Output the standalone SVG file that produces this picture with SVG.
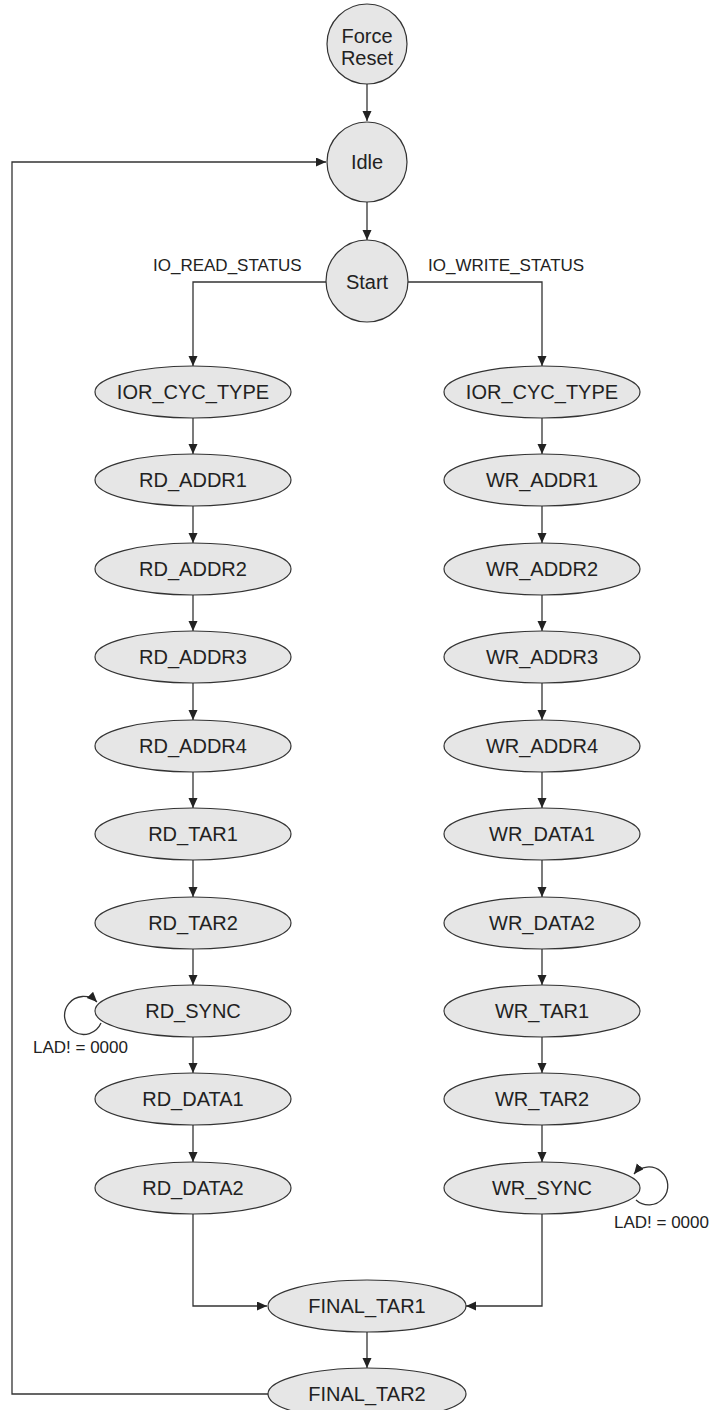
<svg xmlns="http://www.w3.org/2000/svg" width="712" height="1410" viewBox="0 0 712 1410">
  <style>
    .st { fill: #e6e6e6; stroke: #333; stroke-width: 1.2; }
    .lbl { font-family: "Liberation Sans", Arial, sans-serif; font-size: 20px; fill: #222; text-anchor: middle; }
    .cond { font-family: "Liberation Sans", Arial, sans-serif; font-size: 17px; fill: #222; }
    .edge { fill: none; stroke: #333; stroke-width: 1.3; }
  </style>
  <defs>
    <marker id="arrow" markerUnits="userSpaceOnUse" markerWidth="11" markerHeight="10" refX="10" refY="4.5" orient="auto">
      <path d="M0,0 L10,4.5 L0,9 z" fill="#222"/>
    </marker>
  </defs>
  <rect width="712" height="1410" fill="#fff"/>

  <!-- connectors -->
  <g id="connectors" class="edge" marker-end="url(#arrow)">
    <path d="M367 84 V121"/>
    <path d="M367 202 V240"/>
    <path d="M326 282 H193 V366"/>
    <path d="M408 282 H542 V366"/>
    <!-- read column -->
    <path d="M193 418 V454"/>
    <path d="M193 506 V543"/>
    <path d="M193 595 V631"/>
    <path d="M193 683 V720"/>
    <path d="M193 772 V808"/>
    <path d="M193 860 V897"/>
    <path d="M193 949 V985"/>
    <path d="M193 1037 V1073"/>
    <path d="M193 1125 V1162"/>
    <path d="M101 1023 A19 19 0 1 1 97 1002"/>
    <path d="M193 1214 V1306 H267"/>
    <!-- write column -->
    <path d="M636 1200 A19 19 0 1 0 634 1174"/>
    <path d="M542 418 V454"/>
    <path d="M542 506 V543"/>
    <path d="M542 595 V631"/>
    <path d="M542 683 V720"/>
    <path d="M542 772 V808"/>
    <path d="M542 860 V897"/>
    <path d="M542 949 V985"/>
    <path d="M542 1037 V1073"/>
    <path d="M542 1125 V1162"/>
    <path d="M542 1214 V1306 H466"/>
    <!-- final -->
    <path d="M367 1332 V1368"/>
    <path d="M268 1394 H12 V162 H326"/>
  </g>

  <!-- transition conditions -->
  <g id="conditions">
    <text class="cond" x="153" y="271">IO_READ_STATUS</text>
    <text class="cond" x="428" y="271">IO_WRITE_STATUS</text>
    <text class="cond" x="33" y="1053">LAD! = 0000</text>
    <text class="cond" x="614" y="1228">LAD! = 0000</text>
  </g>

  <g id="force_reset">
    <circle class="st" cx="367" cy="44" r="40"/>
    <text class="lbl" x="367" y="43">Force</text>
    <text class="lbl" x="367" y="65">Reset</text>
  </g>
  <g id="idle">
    <circle class="st" cx="367" cy="162" r="40"/>
    <text class="lbl" x="367" y="169">Idle</text>
  </g>
  <g id="start">
    <circle class="st" cx="367" cy="281" r="41"/>
    <text class="lbl" x="367" y="289">Start</text>
  </g>

  <!-- read branch -->
  <g id="rd_cyc_type"><ellipse class="st" cx="193" cy="392" rx="98" ry="26"/><text class="lbl" x="193" y="399">IOR_CYC_TYPE</text></g>
  <g id="rd_addr1"><ellipse class="st" cx="193" cy="480" rx="98" ry="26"/><text class="lbl" x="193" y="487">RD_ADDR1</text></g>
  <g id="rd_addr2"><ellipse class="st" cx="193" cy="569" rx="98" ry="26"/><text class="lbl" x="193" y="576">RD_ADDR2</text></g>
  <g id="rd_addr3"><ellipse class="st" cx="193" cy="657" rx="98" ry="26"/><text class="lbl" x="193" y="664">RD_ADDR3</text></g>
  <g id="rd_addr4"><ellipse class="st" cx="193" cy="746" rx="98" ry="26"/><text class="lbl" x="193" y="753">RD_ADDR4</text></g>
  <g id="rd_tar1"><ellipse class="st" cx="193" cy="834" rx="98" ry="26"/><text class="lbl" x="193" y="841">RD_TAR1</text></g>
  <g id="rd_tar2"><ellipse class="st" cx="193" cy="923" rx="98" ry="26"/><text class="lbl" x="193" y="930">RD_TAR2</text></g>
  <g id="rd_sync"><ellipse class="st" cx="193" cy="1011" rx="98" ry="26"/><text class="lbl" x="193" y="1018">RD_SYNC</text></g>
  <g id="rd_data1"><ellipse class="st" cx="193" cy="1099" rx="98" ry="26"/><text class="lbl" x="193" y="1106">RD_DATA1</text></g>
  <g id="rd_data2"><ellipse class="st" cx="193" cy="1188" rx="98" ry="26"/><text class="lbl" x="193" y="1195">RD_DATA2</text></g>

  <!-- write branch -->
  <g id="wr_cyc_type"><ellipse class="st" cx="542" cy="392" rx="98" ry="26"/><text class="lbl" x="542" y="399">IOR_CYC_TYPE</text></g>
  <g id="wr_addr1"><ellipse class="st" cx="542" cy="480" rx="98" ry="26"/><text class="lbl" x="542" y="487">WR_ADDR1</text></g>
  <g id="wr_addr2"><ellipse class="st" cx="542" cy="569" rx="98" ry="26"/><text class="lbl" x="542" y="576">WR_ADDR2</text></g>
  <g id="wr_addr3"><ellipse class="st" cx="542" cy="657" rx="98" ry="26"/><text class="lbl" x="542" y="664">WR_ADDR3</text></g>
  <g id="wr_addr4"><ellipse class="st" cx="542" cy="746" rx="98" ry="26"/><text class="lbl" x="542" y="753">WR_ADDR4</text></g>
  <g id="wr_data1"><ellipse class="st" cx="542" cy="834" rx="98" ry="26"/><text class="lbl" x="542" y="841">WR_DATA1</text></g>
  <g id="wr_data2"><ellipse class="st" cx="542" cy="923" rx="98" ry="26"/><text class="lbl" x="542" y="930">WR_DATA2</text></g>
  <g id="wr_tar1"><ellipse class="st" cx="542" cy="1011" rx="98" ry="26"/><text class="lbl" x="542" y="1018">WR_TAR1</text></g>
  <g id="wr_tar2"><ellipse class="st" cx="542" cy="1099" rx="98" ry="26"/><text class="lbl" x="542" y="1106">WR_TAR2</text></g>
  <g id="wr_sync"><ellipse class="st" cx="542" cy="1188" rx="98" ry="26"/><text class="lbl" x="542" y="1195">WR_SYNC</text></g>

  <!-- common tail -->
  <g id="final_tar1"><ellipse class="st" cx="367" cy="1306" rx="99" ry="26"/><text class="lbl" x="367" y="1313">FINAL_TAR1</text></g>
  <g id="final_tar2"><ellipse class="st" cx="367" cy="1394" rx="99" ry="26"/><text class="lbl" x="367" y="1401">FINAL_TAR2</text></g>
</svg>
